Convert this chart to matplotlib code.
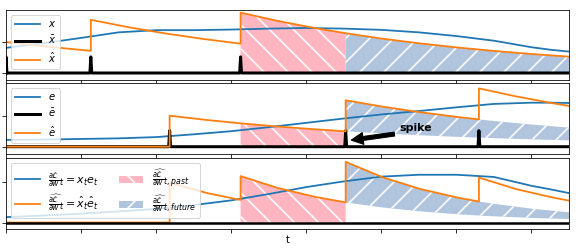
import matplotlib
matplotlib.use("Agg")
import matplotlib.pyplot as plt
import numpy as np

# ---------------- data ----------------
t_end = 150
t_smooth = [0, 10, 20, 30, 40, 50, 60, 70, 80, 90, 100, 110, 120, 130, 140, 145, 150]
x_vals = [0.81, 0.96, 1.13, 1.31, 1.38, 1.38, 1.40, 1.43, 1.45, 1.43, 1.39, 1.31, 1.19, 1.04, 0.83, 0.75, 0.69]
e_vals = [0.22, 0.23, 0.25, 0.27, 0.31, 0.40, 0.50, 0.63, 0.77, 0.91, 1.04, 1.15, 1.27, 1.38, 1.42, 1.42, 1.41]
g_vals = [0.17, 0.22, 0.28, 0.35, 0.43, 0.55, 0.70, 0.90, 1.12, 1.30, 1.45, 1.51, 1.51, 1.44, 1.16, 1.05, 0.93]

xbar_spikes = [0.0, 22.6, 62.5]
ebar_spikes = [43.6, 90.5, 126.0]
spike_height = 0.52

t_xhat = [0, 11.3, 22.6, 22.6, 32.6, 42.6, 52.6, 62.5, 62.5, 72.5, 82.5, 90.5, 100, 110, 120, 130, 140, 150]
xhat = [1.0, 0.845, 0.714, 1.714, 1.476, 1.272, 1.096, 0.945, 1.945, 1.675, 1.443, 1.281, 1.111, 0.957, 0.825, 0.710, 0.612, 0.527]

t_ehat = [0, 43.6, 43.6, 53.6, 62.5, 72.5, 82.5, 90.5, 90.5, 100.5, 110.5, 120.5, 126, 126, 136, 146, 150]
ehat = [0, 0, 1.0, 0.861, 0.754, 0.650, 0.560, 0.497, 1.497, 1.289, 1.110, 0.956, 0.881, 1.881, 1.620, 1.396, 1.315]

t_ghat = [0, 43.6, 43.6, 53.6, 62.5, 62.5, 72.5, 82.5, 90.5, 90.5, 100.5, 110.5, 120.5, 126, 126, 136, 146, 150]
ghat = [0, 0, 1.253, 0.930, 0.713, 1.467, 1.088, 0.807, 0.636, 1.917, 1.422, 1.055, 0.783, 0.664, 1.419, 1.053, 0.781, 0.693]

# shaded regions
t_past = [62.5, 72.5, 82.5, 90.5]
past_x = [1.945, 1.675, 1.443, 1.281]
past_e = [0.754, 0.650, 0.560, 0.497]
past_g = [1.467, 1.088, 0.807, 0.636]

t_fut1 = [90.5, 100, 110, 120, 130, 140, 150]
fut_x = [1.281, 1.111, 0.957, 0.825, 0.710, 0.612, 0.527]

t_fut = [90.5, 100.5, 110.5, 120.5, 126, 130.5, 140.5, 150]
fut_e_top = [1.497, 1.289, 1.110, 0.957, 0.881, 0.824, 0.710, 0.616]
fut_e_bot = [0.497, 0.428, 0.368, 0.317, 0.292, 0.273, 0.235, 0.204]
fut_g_top = [1.917, 1.422, 1.055, 0.783, 0.664, 0.581, 0.431, 0.324]
fut_g_bot = [0.636, 0.472, 0.350, 0.260, 0.220, 0.193, 0.143, 0.108]

x_ticks = [0, 20, 40, 60, 80, 100, 120, 140]
y_ticks = [[0, 1], [0, 1], [0, 1.27]]
y_lims = [(-0.226, 2.03), (-0.235, 2.045), (-0.215, 2.03)]

# ---------------- style ----------------
plt.rcParams['hatch.linewidth'] = 1.6
plt.rcParams['font.size'] = 10
BLUE = '#1f77b4'
ORANGE = '#ff7f0e'
PINK = 'lightpink'
STEEL = 'lightsteelblue'
W, H = 581, 249
fig = plt.figure(figsize=(W / 72, H / 72), dpi=72)

def frac_box(top_px, bot_px, left_px=6, right_px=569):
    return [left_px / W, 1 - bot_px / H, (right_px - left_px) / W, (bot_px - top_px) / H]

ax1 = fig.add_axes(frac_box(10, 80))
ax2 = fig.add_axes(frac_box(83.3, 154))
ax3 = fig.add_axes(frac_box(158.3, 229.3))

def spike_train(spikes, height, width=0.25):
    tt, yy = [0], [0]
    for s in spikes:
        tt += [s - width, s, s + width]
        yy += [0, height, 0]
    tt.append(t_end)
    yy.append(0)
    return tt, yy

# panel 1
ax1.fill_between(t_past, 0, past_x, facecolor=PINK, edgecolor='white', hatch='\\', linewidth=0)
ax1.fill_between(t_fut1, 0, fut_x, facecolor=STEEL, edgecolor='white', hatch='/', linewidth=0)
ax1.plot(t_smooth, x_vals, color=BLUE, lw=1.8, label=r'$x$')
tb, yb = spike_train(xbar_spikes, spike_height)
ax1.plot(tb, yb, color='black', lw=3, label=r'$\bar{x}$', solid_joinstyle='round')
ax1.plot(t_xhat, xhat, color=ORANGE, lw=1.8, label=r'$\hat{x}$')

# panel 2
ax2.fill_between(t_past, 0, past_e, facecolor=PINK, edgecolor='white', hatch='\\', linewidth=0)
ax2.fill_between(t_fut, fut_e_bot, fut_e_top, facecolor=STEEL, edgecolor='white', hatch='/', linewidth=0)
ax2.plot(t_smooth, e_vals, color=BLUE, lw=1.8, label=r'$e$')
tb, yb = spike_train(ebar_spikes, spike_height)
ax2.plot(tb, yb, color='black', lw=3, label=r'$\bar{e}$', solid_joinstyle='round')
ax2.plot(t_ehat, ehat, color=ORANGE, lw=1.8, label=r'$\hat{e}$')
ax2.annotate('spike', xy=(91.3, 0.2), xytext=(104.7, 0.59), fontsize=11, fontweight='bold',
             ha='left', va='center',
             arrowprops=dict(facecolor='black', shrink=0.05))

# panel 3
f_past = ax3.fill_between(t_past, 0, past_g, facecolor=PINK, edgecolor='white', hatch='\\', linewidth=0,
                          label=r'$\widehat{\frac{\partial \mathcal{L}}{\partial w}}_{t, past}$')
f_fut = ax3.fill_between(t_fut, fut_g_bot, fut_g_top, facecolor=STEEL, edgecolor='white', hatch='/', linewidth=0,
                         label=r'$\widehat{\frac{\partial \mathcal{L}}{\partial w}}_{t, future}$')
l_g, = ax3.plot(t_smooth, g_vals, color=BLUE, lw=1.8,
                label=r'$\frac{\partial \mathcal{L}}{\partial w}_t = x_t e_t$')
l_gh, = ax3.plot(t_ghat, ghat, color=ORANGE, lw=1.8,
                 label=r'$\widehat{\frac{\partial \mathcal{L}}{\partial w}}_t = \hat{x}_t \hat{e}_t$')
ax3.plot([0, t_end], [0, 0], color='black', lw=2.5, zorder=2.5)

for i, ax in enumerate([ax1, ax2, ax3]):
    ax.set_xlim(0, t_end)
    ax.set_ylim(*y_lims[i])
    ax.set_xticks(x_ticks)
    ax.set_yticks(y_ticks[i])
    ax.tick_params(labelbottom=False, labelleft=False, length=4)

ax1.legend(loc='upper left', fontsize=10, handlelength=2.5)
ax2.legend(loc='upper left', fontsize=10, handlelength=2.5)
ax3.legend(handles=[l_g, l_gh, f_past, f_fut], loc='upper left', fontsize=11,
           handlelength=2.2, ncol=2, labelspacing=0.35, borderaxespad=0.45,
           columnspacing=1.8)
ax3.set_xlabel('t', fontsize=10, labelpad=2)

fig.savefig('out.png', dpi=72)
